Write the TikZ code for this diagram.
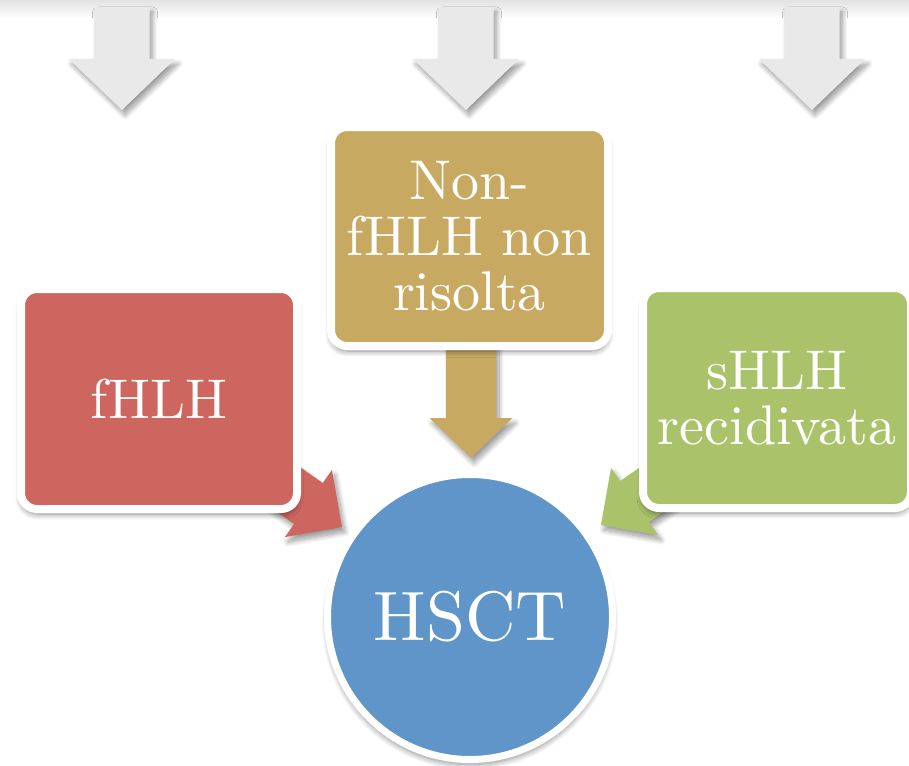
\documentclass[tikz,border=0pt]{standalone}
\usepackage{fontspec}
\setmainfont{lmroman10-regular.otf}
\usetikzlibrary{shadows.blur}
\definecolor{cred}{RGB}{205,102,94}
\definecolor{cgold}{RGB}{200,169,98}
\definecolor{cgreen}{RGB}{170,195,107}
\definecolor{cblue}{RGB}{95,149,200}
\definecolor{cgrey}{RGB}{233,233,233}
\definecolor{cband}{RGB}{226,226,226}
\tikzset{
  softshadow/.style={blur shadow={shadow xshift=0pt, shadow yshift=-5pt, shadow blur radius=6pt, shadow opacity=45, shadow blur steps=12}},
  arrshadow/.style={blur shadow={shadow xshift=3pt, shadow yshift=-5pt, shadow blur radius=5pt, shadow opacity=40, shadow blur steps=12}},
  boxnode/.style={draw=white, line width=8pt, rounded corners=16pt, text=white, align=center, inner sep=0pt, font=\fontsize{56}{55.5}\selectfont, softshadow},
  circnode/.style={circle, draw=white, line width=7pt, fill=cblue, text=white, inner sep=0pt, minimum size=285pt, font=\fontsize{70}{70}\selectfont, softshadow},
}
\newcommand\blockarr[7]{%
  \begin{scope}[shift={(#1)}, rotate=#2]
    \fill[#7, arrshadow] (0,0) -- (-#3,#4) -- (-#3,#5) -- (-#6,#5) -- (-#6,-#5) -- (-#3,-#5) -- (-#3,-#4) -- cycle;
  \end{scope}}
\begin{document}
\begin{tikzpicture}[x=1pt,y=-1pt]
\useasboundingbox (0,0) rectangle (909,765);
% top band
\shade[top color=cband, bottom color=white] (0,0) rectangle (909,18);
% named tips
\coordinate (t1) at (122,110);
\coordinate (t2) at (466,110);
\coordinate (t3) at (812,110);
\coordinate (rtip) at (342,527);
\coordinate (gtip) at (601,525);
\coordinate (mtip) at (471,458);
% grey top arrows
\blockarr{t1}{-90}{51}{53}{27.5}{103}{cgrey}
\blockarr{t2}{-90}{51}{53}{27.5}{103}{cgrey}
\blockarr{t3}{-90}{51}{53}{27.5}{103}{cgrey}
% coloured arrows
\blockarr{mtip}{-90}{40}{41.5}{25}{128}{cgold}
\blockarr{rtip}{-35}{41}{41}{25}{110}{cred}
\blockarr{gtip}{-145}{41}{41}{25}{110}{cgreen}
% boxes
\node[boxnode, fill=cred, minimum width=276pt, minimum height=220pt] (fhlh) at (159,399) {fHLH};
\node[boxnode, fill=cgold, minimum width=277pt, minimum height=219pt] (nonf) at (469.5,236.5) {Non-\\fHLH non\\risolta};
\node[boxnode, fill=cgreen, minimum width=268pt, minimum height=220pt] (shlh) at (777,398) {sHLH\\recidivata};
\node[circnode] (hsct) at (470,617) {HSCT};
\end{tikzpicture}
\end{document}
